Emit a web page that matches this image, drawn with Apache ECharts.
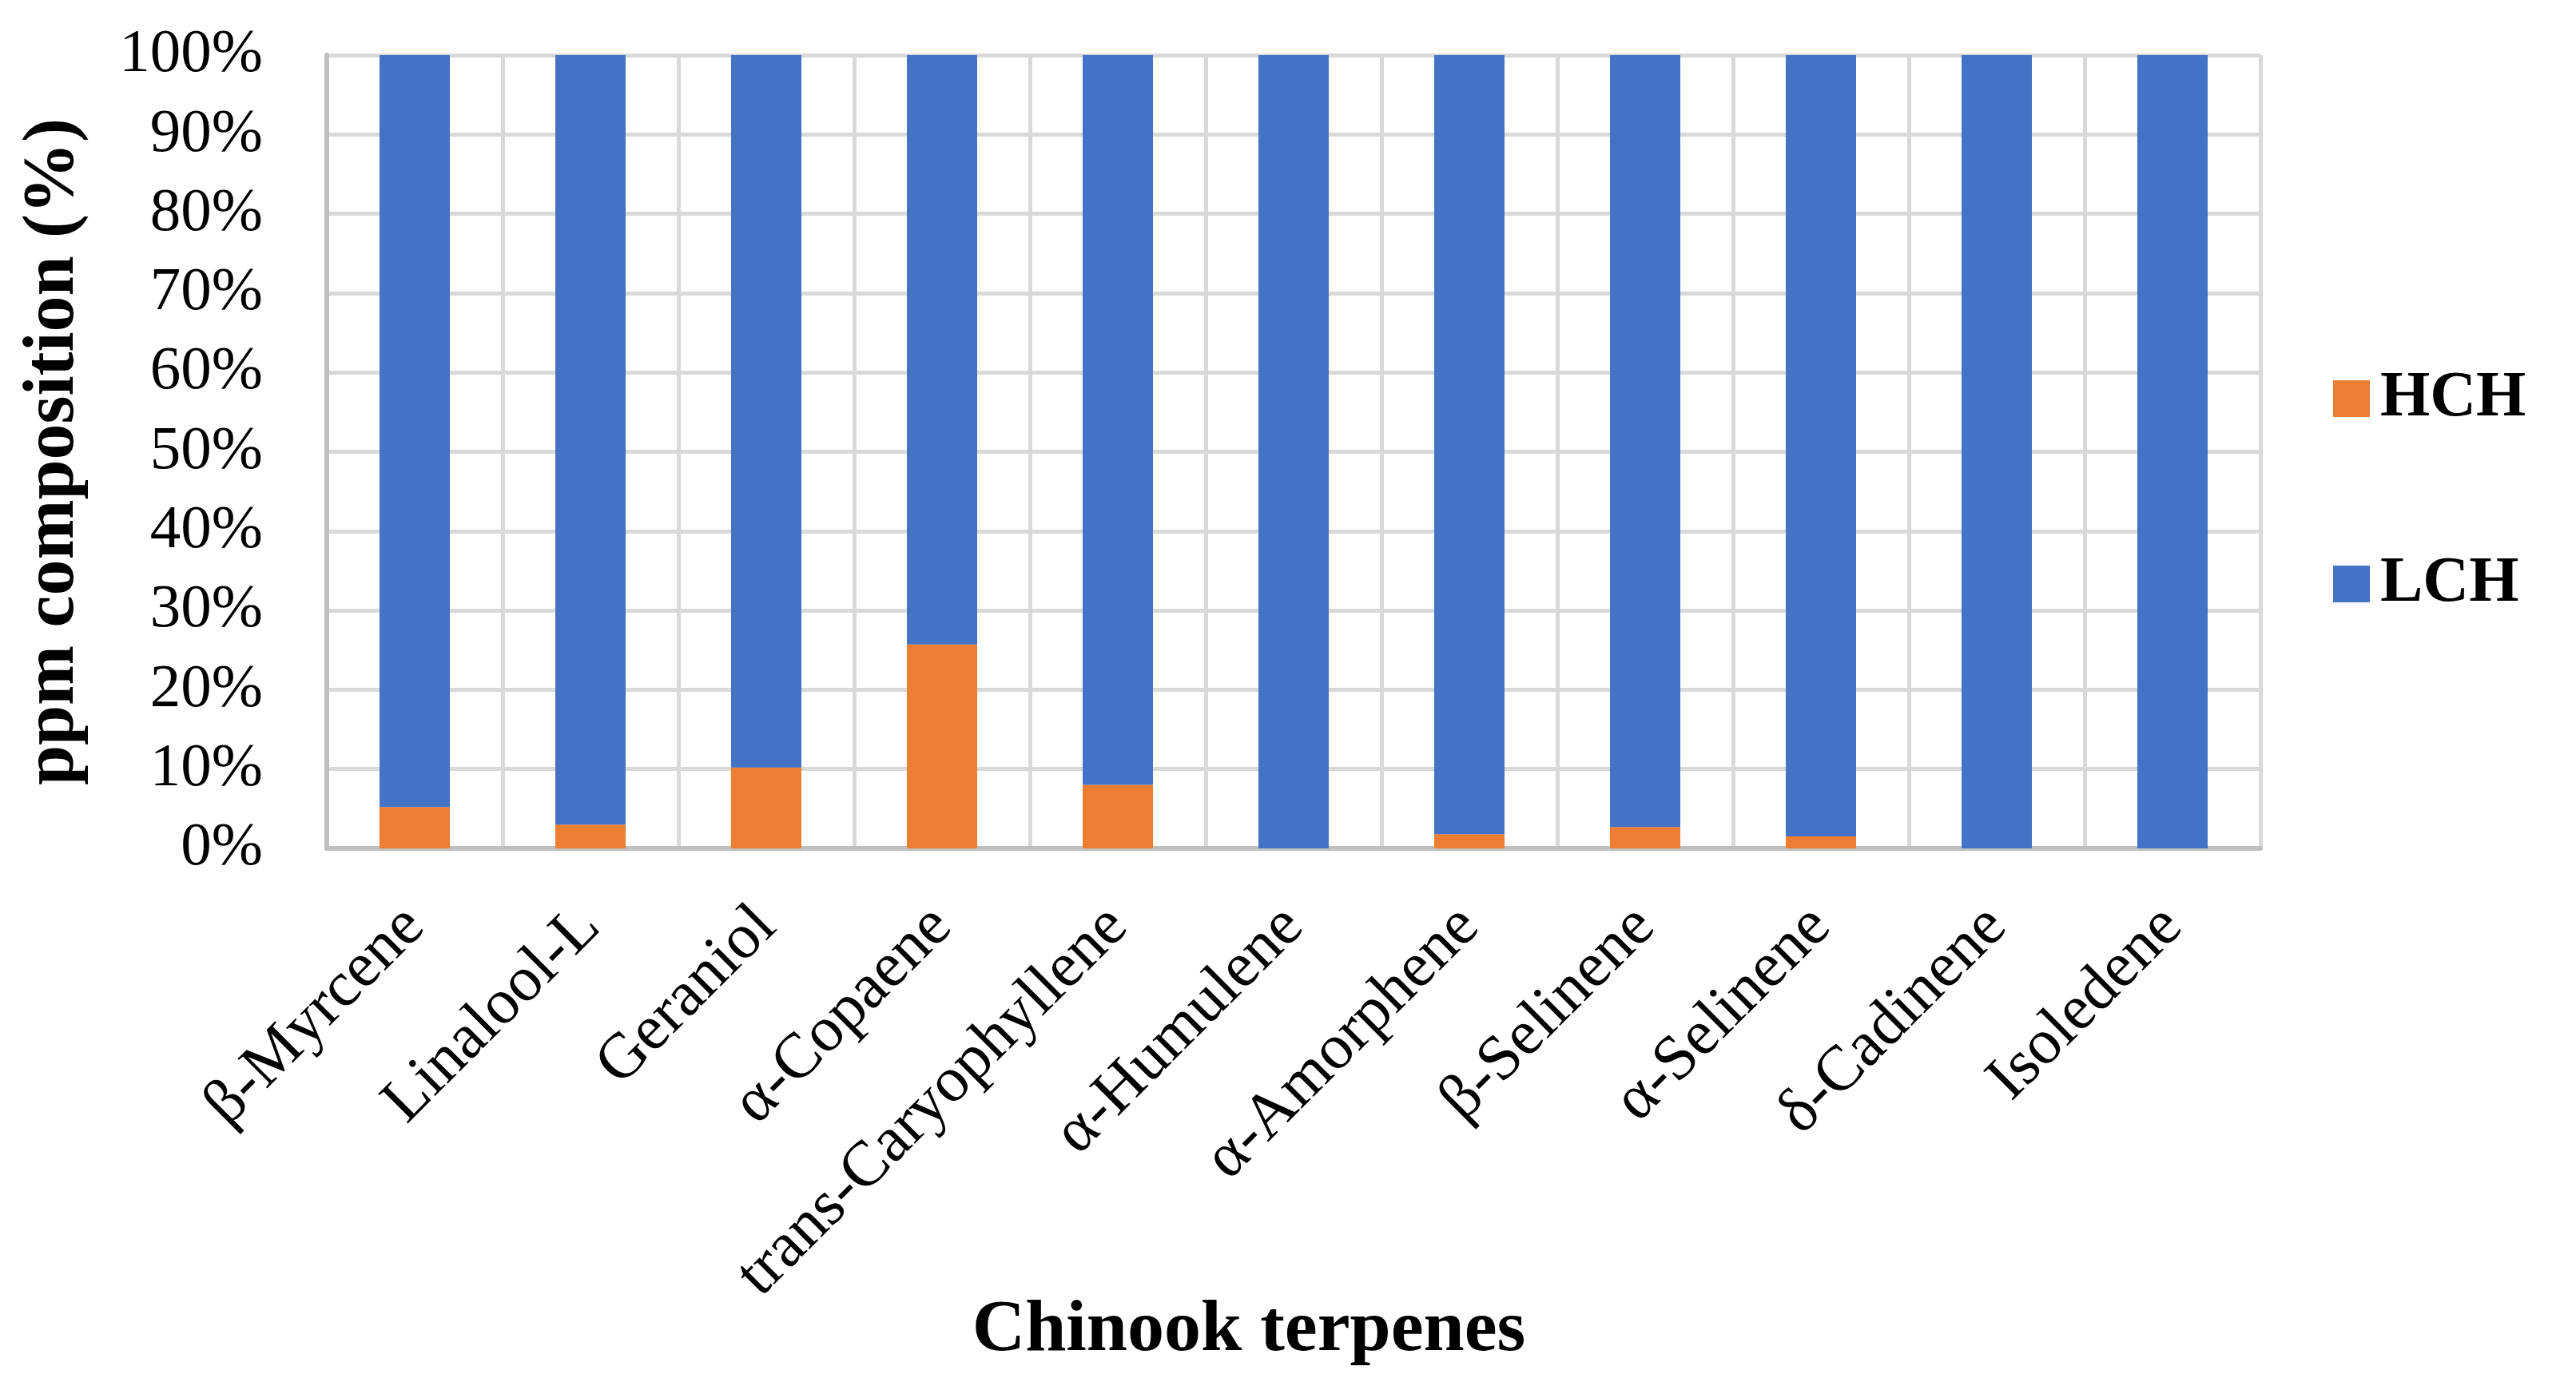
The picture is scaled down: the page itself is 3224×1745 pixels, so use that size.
<!DOCTYPE html>
<html>
<head>
<meta charset="utf-8">
<script src="https://cdn.jsdelivr.net/npm/echarts@6/dist/echarts.min.js"></script>
<style>
html,body{margin:0;padding:0;background:#fff;}
#chart{width:3224px;height:1745px;}
</style>
</head>
<body>
<div id="chart"></div>
<script>
const categories = ['β-Myrcene','Linalool-L','Geraniol','α-Copaene','trans-Caryophyllene','α-Humulene','α-Amorphene','β-Selinene','α-Selinene','δ-Cadinene','Isoledene'];
const hchValues = [5.2, 3.0, 10.2, 25.7, 8.0, 0, 1.8, 2.7, 1.5, 0, 0];
const lchValues = [94.8, 97.0, 89.8, 74.3, 92.0, 100, 98.2, 97.3, 98.5, 100, 100];
const yTicks = [0, 10, 20, 30, 40, 50, 60, 70, 80, 90, 100];

const FONT = '"Liberation Serif", "DejaVu Serif", serif';
const chart = echarts.init(document.getElementById('chart'));
chart.setOption({
  animation: false,
  backgroundColor: '#ffffff',
  textStyle: { fontFamily: FONT, color: '#000' },
  grid: { left: 409, right: 395, top: 69, bottom: 683, containLabel: false },
  legend: {
    orient: 'vertical',
    left: 2915,
    top: 454,
    itemWidth: 46,
    itemHeight: 46,
    itemGap: 152,
    icon: 'rect',
    textStyle: { fontFamily: FONT, fontSize: 80, fontWeight: 'bold', color: '#000', padding: [0, 0, 0, 8] },
    data: ['HCH', 'LCH']
  },
  xAxis: {
    type: 'category',
    data: categories,
    name: 'Chinook terpenes',
    nameLocation: 'middle',
    nameGap: 558,
    nameMoveOverlap: false,
    nameTextStyle: { fontFamily: FONT, fontSize: 92, fontWeight: 'bold', color: '#000', padding: [0, 112, 0, 0] },
    axisLine: { show: true, lineStyle: { color: '#bfbfbf', width: 6 } },
    axisTick: { show: false },
    splitLine: { show: true, lineStyle: { color: '#d9d9d9', width: 5 } },
    axisLabel: { rotate: 45, fontFamily: FONT, fontSize: 80, color: '#000', margin: 86, interval: 0 }
  },
  yAxis: {
    type: 'value',
    min: 0,
    max: 100,
    interval: 10,
    name: 'ppm composition (%)',
    nameLocation: 'middle',
    nameGap: 296,
    nameMoveOverlap: false,
    nameTextStyle: { fontFamily: FONT, fontSize: 90, fontWeight: 'bold', color: '#000' },
    axisLine: { show: true, lineStyle: { color: '#bfbfbf', width: 6 } },
    axisTick: { show: false },
    splitLine: { show: true, lineStyle: { color: '#d9d9d9', width: 5 } },
    axisLabel: {
      fontFamily: FONT, fontSize: 77, color: '#000', margin: 80,
      formatter: v => (yTicks.indexOf(v) >= 0 ? v + '%' : '')
    }
  },
  series: [
    { name: 'HCH', type: 'bar', stack: 'total', data: hchValues, barWidth: '40%', itemStyle: { color: '#ED7D31' } },
    { name: 'LCH', type: 'bar', stack: 'total', data: lchValues, barWidth: '40%', itemStyle: { color: '#4472C4' } }
  ]
});
</script>
</body>
</html>
